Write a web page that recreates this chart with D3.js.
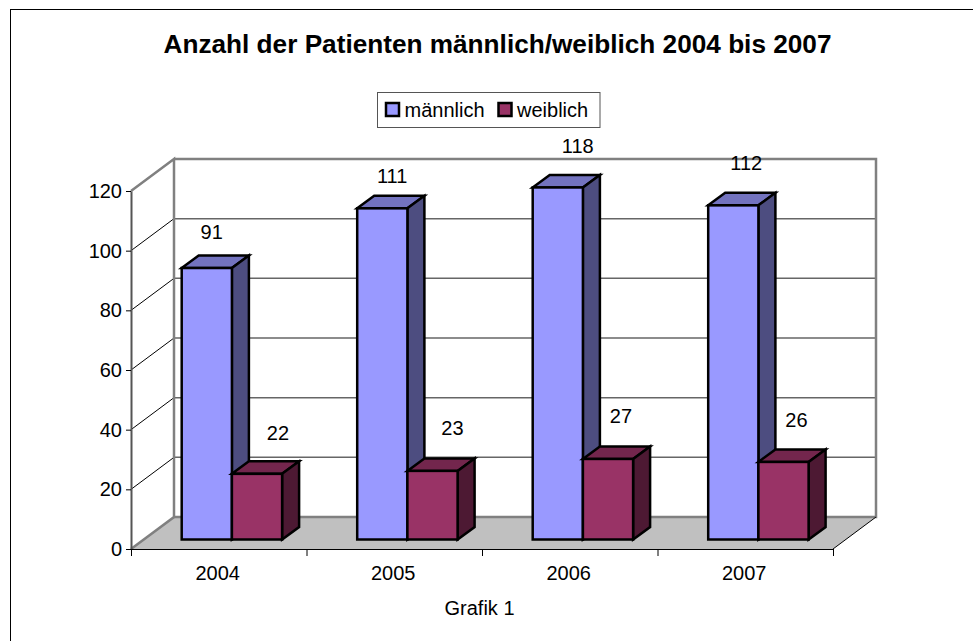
<!DOCTYPE html>
<html>
<head>
<meta charset="utf-8">
<script src="https://cdn.jsdelivr.net/npm/d3@7"></script>
<style>
  html, body { margin: 0; padding: 0; background: #fff; }
  svg { display: block; }
  text { font-family: "Liberation Sans", Arial, sans-serif; fill: #000; }
</style>
</head>
<body>
<svg id="chart" width="973" height="641"></svg>
<script>
const years = ['2004', '2005', '2006', '2007'];
const seriesNames = ['männlich', 'weiblich'];
const maleValues = [91, 111, 118, 112];
const femaleValues = [22, 23, 27, 26];
const yTicks = [0, 20, 40, 60, 80, 100, 120];

const colors = {
  männlich: { front: '#9999ff', top: '#7373bf', side: '#4d4d80' },
  weiblich: { front: '#993366', top: '#73264d', side: '#4d1933' }
};

const svg = d3.select('#chart');

// depth of the fake 3d box and of a single bar
const wallDx = 43, wallDy = -32;
const barDx = 17, barDy = -12.5;

const x = d3.scaleBand().domain(years).range([131, 833]);
const y = d3.scaleLinear().domain([0, 120]).range([549, 191]);
const barBaseShift = -9.5; // bars stand in the middle of the floor
const barLeft = 50.7, barWidth = 50.2;

// the labels are not placed evenly in the original, so nudge each one
const maleNudge = [[0, 0], [5, 4], [15, -5], [8, -6]];
const femaleNudge = [[16, -4], [15, -6], [8, -6], [8, -5]];

const poly = (pts) => d3.line()(pts) + 'Z';

// outer frame, runs off the right and bottom of the picture
svg.append('rect')
  .attr('x', 10.5).attr('y', 9.5)
  .attr('width', 1000).attr('height', 700)
  .attr('fill', '#fff').attr('stroke', '#000').attr('stroke-width', 1);

svg.append('text')
  .attr('x', 497.5).attr('y', 53)
  .attr('text-anchor', 'middle')
  .attr('font-size', 26.2).attr('font-weight', 700)
  .text('Anzahl der Patienten männlich/weiblich 2004 bis 2007');

// legend
const legend = svg.append('g');
legend.append('rect')
  .attr('x', 377.5).attr('y', 92.5)
  .attr('width', 222.5).attr('height', 35)
  .attr('fill', '#fff').attr('stroke', '#555').attr('stroke-width', 1);
const legendKeys = [386, 498.5];
seriesNames.forEach((name, i) => {
  legend.append('rect')
    .attr('x', legendKeys[i]).attr('y', 103)
    .attr('width', 13).attr('height', 13)
    .attr('fill', colors[name].front)
    .attr('stroke', '#000').attr('stroke-width', 2.5);
  legend.append('text')
    .attr('x', legendKeys[i] + 18.5).attr('y', 116.5)
    .attr('font-size', 20)
    .text(name);
});

// floor
const x0 = x.range()[0], x1 = x.range()[1];
const y0 = y(0), yTop = y(120);
svg.append('path')
  .attr('d', poly([[x0, y0], [x0 + wallDx, y0 + wallDy], [x1 + wallDx, y0 + wallDy], [x1, y0]]))
  .attr('fill', '#c0c0c0');

// gridlines on back wall and side wall
yTicks.slice(1, -1).forEach((t) => {
  svg.append('line')
    .attr('x1', x0 + wallDx).attr('x2', x1 + wallDx)
    .attr('y1', y(t) + wallDy).attr('y2', y(t) + wallDy)
    .attr('stroke', '#666').attr('stroke-width', 1.5);
  svg.append('line')
    .attr('x1', x0).attr('x2', x0 + wallDx)
    .attr('y1', y(t)).attr('y2', y(t) + wallDy)
    .attr('stroke', '#000').attr('stroke-width', 1);
});

// wall outline
svg.append('path')
  .attr('d', d3.line()([[x0, y0], [x0 + wallDx, y0 + wallDy], [x0 + wallDx, yTop + wallDy], [x0, yTop]]))
  .attr('fill', 'none').attr('stroke', '#808080').attr('stroke-width', 2.5);
svg.append('path')
  .attr('d', d3.line()([[x0 + wallDx, yTop + wallDy], [x1 + wallDx, yTop + wallDy], [x1 + wallDx, y0 + wallDy], [x0 + wallDx, y0 + wallDy]]))
  .attr('fill', 'none').attr('stroke', '#808080').attr('stroke-width', 2.5);
svg.append('line')
  .attr('x1', x1).attr('x2', x1 + wallDx)
  .attr('y1', y0).attr('y2', y0 + wallDy)
  .attr('stroke', '#000').attr('stroke-width', 1);

// axes
const yAxis = d3.axisLeft(y).tickValues(yTicks).tickSize(5).tickPadding(4).tickSizeOuter(0);
const yG = svg.append('g').attr('transform', `translate(${x0},0)`).call(yAxis);
yG.select('.domain').attr('stroke', '#555').attr('stroke-width', 2);
yG.selectAll('.tick line').attr('stroke', '#000');
yG.selectAll('.tick text').attr('font-size', 20).attr('font-family', '"Liberation Sans", Arial, sans-serif');

const xBoundaries = d3.scaleLinear().domain([0, years.length]).range([x0, x1]);
const xAxis = d3.axisBottom(xBoundaries).tickValues(d3.range(years.length + 1)).tickFormat('').tickSize(7).tickSizeOuter(0);
const xG = svg.append('g').attr('transform', `translate(0,${y0})`).call(xAxis);
xG.select('.domain').attr('stroke', '#000').attr('stroke-width', 1);
xG.selectAll('.tick line').attr('stroke', '#000');

svg.selectAll('.yearLabel').data(years).join('text')
  .attr('class', 'yearLabel')
  .attr('x', (d) => x(d) + x.bandwidth() / 2 - 1)
  .attr('y', 580)
  .attr('text-anchor', 'middle')
  .attr('font-size', 20)
  .text((d) => d);

// bars: back to front, left to right
function drawBar(g, left, value, c) {
  const right = left + barWidth;
  const base = y(0) + barBaseShift;
  const top = y(value) + barBaseShift;
  const stroke = (sel) => sel.attr('stroke', '#000').attr('stroke-width', 2.5).attr('stroke-linejoin', 'miter');
  g.append('path')
    .attr('d', poly([[left, top], [left + barDx, top + barDy], [right + barDx, top + barDy], [right, top]]))
    .attr('fill', c.top).call(stroke);
  g.append('path')
    .attr('d', poly([[right, top], [right + barDx, top + barDy], [right + barDx, base + barDy], [right, base]]))
    .attr('fill', c.side).call(stroke);
  g.append('rect')
    .attr('x', left).attr('y', top)
    .attr('width', barWidth).attr('height', base - top)
    .attr('fill', c.front).call(stroke);
}

const barsG = svg.append('g');
years.forEach((year, i) => {
  const left = x(year) + barLeft;
  drawBar(barsG, left, maleValues[i], colors['männlich']);
  drawBar(barsG, left + barWidth, femaleValues[i], colors['weiblich']);
});

// value labels
years.forEach((year, i) => {
  const left = x(year) + barLeft;
  [maleValues[i], femaleValues[i]].forEach((v, j) => {
    const nudge = (j === 0 ? maleNudge : femaleNudge)[i];
    svg.append('text')
      .attr('x', left + barWidth * j + 30 + nudge[0])
      .attr('y', y(v) + barBaseShift - 29.5 + nudge[1])
      .attr('text-anchor', 'middle')
      .attr('font-size', 20)
      .text(v);
  });
});

svg.append('text')
  .attr('x', 479.5).attr('y', 615)
  .attr('text-anchor', 'middle')
  .attr('font-size', 20)
  .text('Grafik 1');
</script>
</body>
</html>
